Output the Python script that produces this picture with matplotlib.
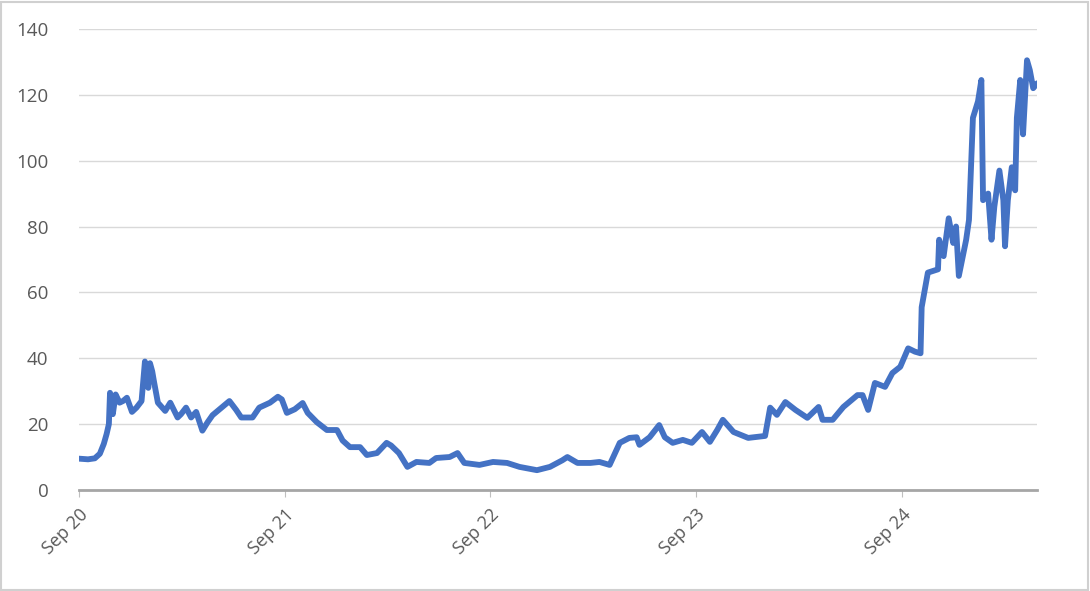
import matplotlib
matplotlib.use("Agg")
import matplotlib.pyplot as plt
from matplotlib.patches import Rectangle
import pandas as pd

plt.rcParams["font.family"] = ["Open Sans", "DejaVu Sans"]

# values
dates = [
    "2020-09-01", "2020-09-17", "2020-09-29", "2020-10-08", "2020-10-15", "2020-10-20",
    "2020-10-24", "2020-10-26", "2020-10-31", "2020-11-05", "2020-11-12", "2020-11-18",
    "2020-11-25", "2020-12-04", "2020-12-12", "2020-12-21", "2020-12-27", "2021-01-02",
    "2021-01-05", "2021-01-09", "2021-01-12", "2021-01-19", "2021-02-01", "2021-02-10",
    "2021-02-23", "2021-03-01", "2021-03-10", "2021-03-19", "2021-03-28", "2021-04-08",
    "2021-04-17", "2021-04-26", "2021-05-12", "2021-05-26", "2021-06-07", "2021-06-16",
    "2021-07-06", "2021-07-18", "2021-08-06", "2021-08-20", "2021-08-27", "2021-09-05",
    "2021-09-19", "2021-10-03", "2021-10-12", "2021-10-28", "2021-11-15", "2021-12-03",
    "2021-12-13", "2021-12-26", "2022-01-13", "2022-01-25", "2022-02-12", "2022-03-01",
    "2022-03-09", "2022-03-23", "2022-04-07", "2022-04-23", "2022-05-16", "2022-05-28",
    "2022-06-21", "2022-07-05", "2022-07-17", "2022-08-13", "2022-09-06", "2022-10-01",
    "2022-10-23", "2022-11-23", "2022-12-16", "2023-01-07", "2023-01-16", "2023-02-03",
    "2023-02-26", "2023-03-14", "2023-04-01", "2023-04-19", "2023-05-06", "2023-05-19",
    "2023-05-24", "2023-06-11", "2023-06-28", "2023-07-08", "2023-07-22", "2023-08-09",
    "2023-08-25", "2023-09-12", "2023-09-26", "2023-10-09", "2023-10-19", "2023-11-07",
    "2023-12-03", "2024-01-02", "2024-01-11", "2024-01-23", "2024-02-07", "2024-02-25",
    "2024-03-17", "2024-04-06", "2024-04-13", "2024-05-01", "2024-05-20", "2024-06-14",
    "2024-06-23", "2024-07-03", "2024-07-15", "2024-08-02", "2024-08-15", "2024-08-29",
    "2024-09-12", "2024-09-24", "2024-10-04", "2024-10-06", "2024-10-17", "2024-11-04",
    "2024-11-06", "2024-11-14", "2024-11-23", "2024-12-01", "2024-12-06", "2024-12-11",
    "2024-12-24", "2024-12-29", "2025-01-05", "2025-01-14", "2025-01-20", "2025-01-23",
    "2025-02-01", "2025-02-07", "2025-02-12", "2025-02-21", "2025-02-28", "2025-03-03",
    "2025-03-08", "2025-03-15", "2025-03-21", "2025-03-24", "2025-03-30", "2025-04-04",
    "2025-04-11", "2025-04-16", "2025-04-22", "2025-04-29",
]
values = [
    9.5, 9.3, 9.6, 11.0, 14.0, 17.0,
    20.0, 29.5, 23.0, 29.0, 26.5, 27.0,
    28.0, 23.7, 25.0, 27.0, 39.0, 31.0,
    38.5, 36.0, 33.0, 26.5, 24.0, 26.5,
    22.0, 23.0, 25.0, 22.0, 23.7, 18.0,
    20.5, 22.7, 25.0, 27.0, 24.3, 22.0,
    22.0, 25.0, 26.5, 28.3, 27.5, 23.4,
    24.5, 26.4, 23.4, 20.6, 18.2, 18.2,
    15.0, 13.0, 13.0, 10.6, 11.2, 14.3,
    13.5, 11.2, 7.0, 8.5, 8.2, 9.7,
    10.0, 11.2, 8.2, 7.6, 8.5, 8.2,
    7.0, 6.0, 7.0, 9.0, 10.0, 8.2,
    8.2, 8.5, 7.6, 14.3, 15.8, 16.0,
    13.7, 16.0, 19.7, 16.0, 14.3, 15.2,
    14.3, 17.6, 14.6, 18.2, 21.3, 17.6,
    15.8, 16.4, 25.0, 22.8, 26.7, 24.3,
    21.9, 25.2, 21.3, 21.3, 25.2, 28.8,
    28.8, 24.3, 32.5, 31.3, 35.5, 37.4,
    43.0, 42.0, 41.5, 55.5, 66.0, 67.0,
    76.0, 71.0, 82.5, 75.0, 80.0, 65.0,
    76.0, 82.0, 113.0, 118.0, 124.5, 88.0,
    90.0, 76.0, 86.0, 97.0, 88.0, 74.0,
    88.0, 98.0, 91.0, 113.0, 124.5, 108.0,
    130.5, 127.5, 122.0, 123.5,
]
tick_dates = ["2020-09-01", "2021-09-01", "2022-09-01", "2023-09-01", "2024-09-01"]
tick_labels = ["Sep 20", "Sep 21", "Sep 22", "Sep 23", "Sep 24"]
y_ticks = [0, 20, 40, 60, 80, 100, 120, 140]

x = pd.to_datetime(dates)
xt = pd.to_datetime(tick_dates)

fig = plt.figure(figsize=(10.9, 5.91), dpi=100)
ax = fig.add_axes([0.0725, 0.171, 0.879, 0.78])

ax.plot(x, values, color="#4472C4", linewidth=4.2, solid_joinstyle="round",
        solid_capstyle="round")

ax.set_xlim(x[0], x[-1])
ax.set_ylim(0, 140)
ax.set_yticks(y_ticks)
ax.set_xticks(xt)
ax.set_xticklabels(tick_labels, rotation=45, ha="right", va="top",
                   rotation_mode="anchor", fontsize=13, color="#595959")
ax.tick_params(axis="x", length=5, color="#bfbfbf", pad=6)
ax.tick_params(axis="y", length=0, pad=22, labelsize=13.5, labelcolor="#595959")

ax.grid(axis="y", color="#d9d9d9", linewidth=1)
ax.set_axisbelow(True)
for s in ["top", "right", "left"]:
    ax.spines[s].set_visible(False)
ax.spines["bottom"].set_color("#a6a6a6")
ax.spines["bottom"].set_linewidth(2)

# light frame around the whole chart
fig.patches.append(Rectangle((0.001, 0.002), 0.997, 0.995, transform=fig.transFigure,
                             fill=False, edgecolor="#d0d0d0", linewidth=1.5))

fig.savefig("out.png", dpi=100)
